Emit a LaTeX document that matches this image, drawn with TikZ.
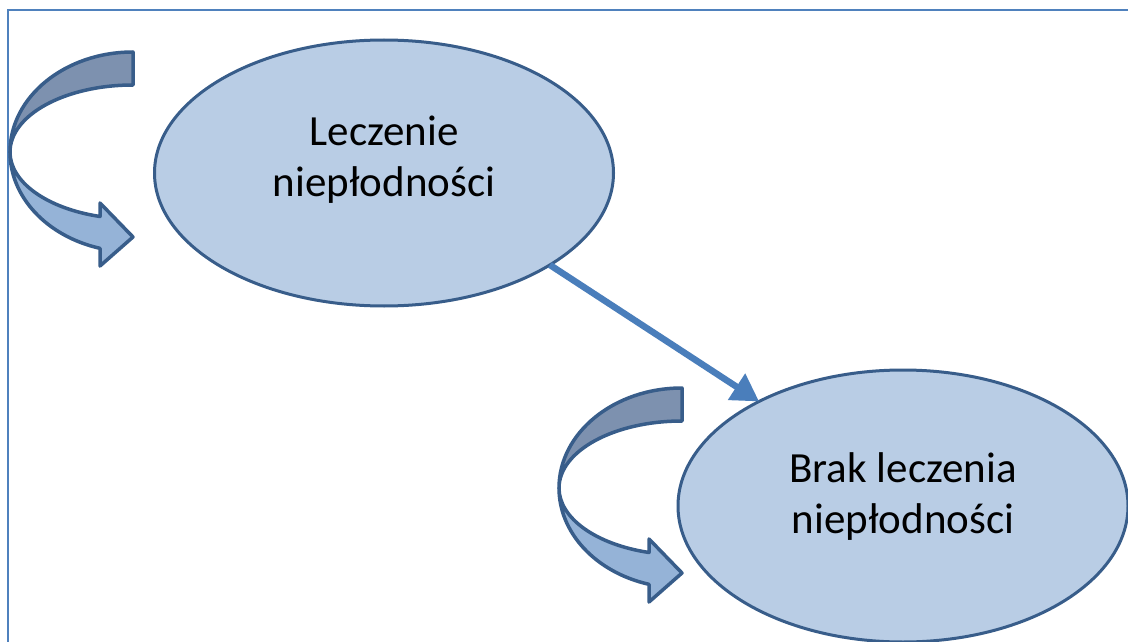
\documentclass[tikz,border=0pt]{standalone}
\usepackage{fontspec}
\setmainfont{Carlito}
\usetikzlibrary{shapes.geometric,arrows.meta}
\definecolor{framecol}{RGB}{79,129,189}
\definecolor{ellfill}{RGB}{185,205,229}
\definecolor{outline}{RGB}{56,93,138}
\definecolor{linkcol}{RGB}{74,126,187}
\definecolor{bandlight}{RGB}{149,179,215}
\definecolor{banddark}{RGB}{125,145,175}
\tikzset{
  ell/.style={ellipse, draw=outline, fill=ellfill, line width=3pt, inner sep=0pt, outer sep=0pt,
    align=center, font=\fontsize{43}{51}\selectfont},
  link/.style={draw=linkcol, line width=6.5pt, -{Triangle[length=27pt,width=30pt]}},
  band/.style={draw=outline, line width=3.5pt, line join=round},
  frame/.style={draw=framecol, line width=2.5pt}
}
\newcommand{\curvedarrow}[1]{%
  \begin{scope}[shift={#1}]
    \path[band, fill=banddark] (0,100) arc[start angle=90, end angle=180, x radius=123pt, y radius=100pt]
      arc[start angle=180, end angle=90, x radius=123pt, y radius=67pt] -- cycle;
    \path[band, fill=bandlight] (-123,0) arc[start angle=180, end angle=254.45, x radius=123pt, y radius=100pt]
      -- (-33,-114) -- (0,-85) -- (-33,-51) -- (-33,-64.5)
      arc[start angle=254.45, end angle=180, x radius=123pt, y radius=67pt] -- cycle;
  \end{scope}}
\begin{document}
\begin{tikzpicture}[x=1pt,y=1pt]
  \useasboundingbox (0,0) rectangle (1128,-642);
  \fill[white] (0,0) rectangle (1128,-642);
  \draw[frame] (1130,-10) -- (8,-10) -- (8,-644);
  \curvedarrow{(133,-152)}
  \curvedarrow{(682,-488)}
  \node[ell, minimum width=459pt, minimum height=266pt, text depth=34pt] (e1) at (384,-173) {Leczenie\\niepłodności};
  \node[ell, minimum width=450pt, minimum height=272pt, text depth=26pt] (e2) at (903,-506) {Brak leczenia\\niepłodności};
  \draw[link] (e1.-29.5) -- (e2.144.8);
\end{tikzpicture}
\end{document}
